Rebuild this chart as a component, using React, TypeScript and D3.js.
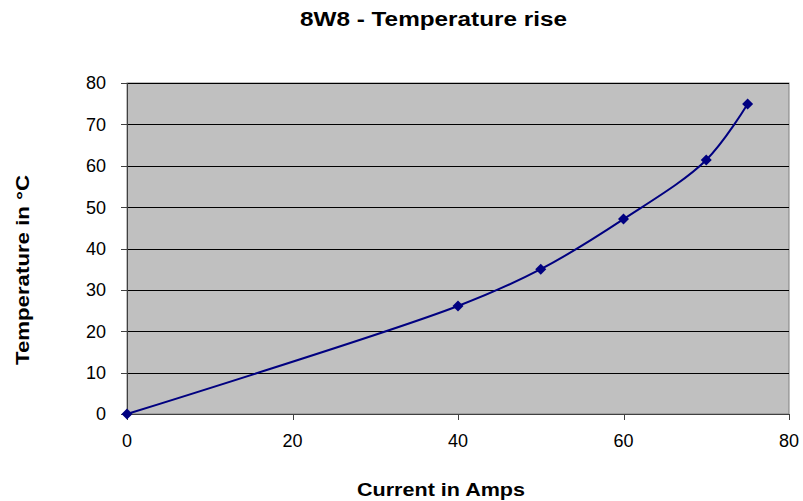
import React from "react";
import * as d3 from "d3";

const currents = [0, 40, 50, 60, 70, 75];
const temperatures = [0, 26.1, 35.0, 47.1, 61.4, 74.9];
const xTicks = [0, 20, 40, 60, 80];
const yTicks = [0, 10, 20, 30, 40, 50, 60, 70, 80];
const title = "8W8 - Temperature rise";
const xLabel = "Current in Amps";
const yLabel = "Temperature in °C";

export default function App() {
  const W = 803, H = 501;
  const left = 127, right = 789, top = 83, bottom = 414;
  const x = d3.scaleLinear().domain([0, 80]).range([left, right]);
  const y = d3.scaleLinear().domain([0, 80]).range([bottom, top]);
  const pts = currents.map((c, i) => [x(c), y(temperatures[i])] as [number, number]);
  const line = d3.line().curve(d3.curveCatmullRom.alpha(0.5))(pts) || "";
  const r = 5.5;
  const diamond = `M0,${-r}L${r},0L0,${r}L${-r},0Z`;
  const font = "'Liberation Sans', Arial, sans-serif";
  return (
    <svg width={W} height={H} style={{ position: "absolute", left: 0, top: 0 }} fontFamily={font}>
      <rect x={0} y={0} width={W} height={H} fill="#fff" />
      <rect x={left} y={top} width={right - left} height={bottom - top} fill="#c0c0c0" stroke="#808080" strokeWidth={1} />
      {yTicks.filter(t => t > 0).map(t => (
        <line key={"g" + t} x1={left} x2={right} y1={Math.round(y(t)) + 0.5} y2={Math.round(y(t)) + 0.5} stroke="#000" strokeWidth={1} />
      ))}
      <line x1={left + 0.5} x2={left + 0.5} y1={top} y2={bottom} stroke="#404040" />
      <line x1={left} x2={right} y1={bottom + 0.5} y2={bottom + 0.5} stroke="#404040" />
      {yTicks.map(t => (
        <g key={"y" + t}>
          <line x1={left - 6} x2={left} y1={Math.round(y(t)) + 0.5} y2={Math.round(y(t)) + 0.5} stroke="#404040" />
          <text x={106} y={y(t)} dy="0.36em" textAnchor="end" fontSize={18} fill="#000">{t}</text>
        </g>
      ))}
      {xTicks.map(t => (
        <g key={"x" + t}>
          <line x1={Math.round(x(t)) + 0.5} x2={Math.round(x(t)) + 0.5} y1={bottom} y2={bottom + 6} stroke="#404040" />
          <text x={x(t)} y={447} textAnchor="middle" fontSize={18} fill="#000">{t}</text>
        </g>
      ))}
      <path d={line} fill="none" stroke="#000080" strokeWidth={2} />
      {pts.map((p, i) => (
        <path key={"m" + i} d={diamond} transform={`translate(${p[0]},${p[1]})`} fill="#000080" />
      ))}
      <text x={300} y={26} fontSize={20} fontWeight="bold" fill="#000" textLength={267} lengthAdjust="spacingAndGlyphs">{title}</text>
      <text x={357} y={496} fontSize={19} fontWeight="bold" fill="#000" textLength={168} lengthAdjust="spacingAndGlyphs">{xLabel}</text>
      <text transform={`translate(29,365) rotate(-90)`} fontSize={19} fontWeight="bold" fill="#000" textLength={190} lengthAdjust="spacingAndGlyphs">{yLabel}</text>
    </svg>
  );
}
